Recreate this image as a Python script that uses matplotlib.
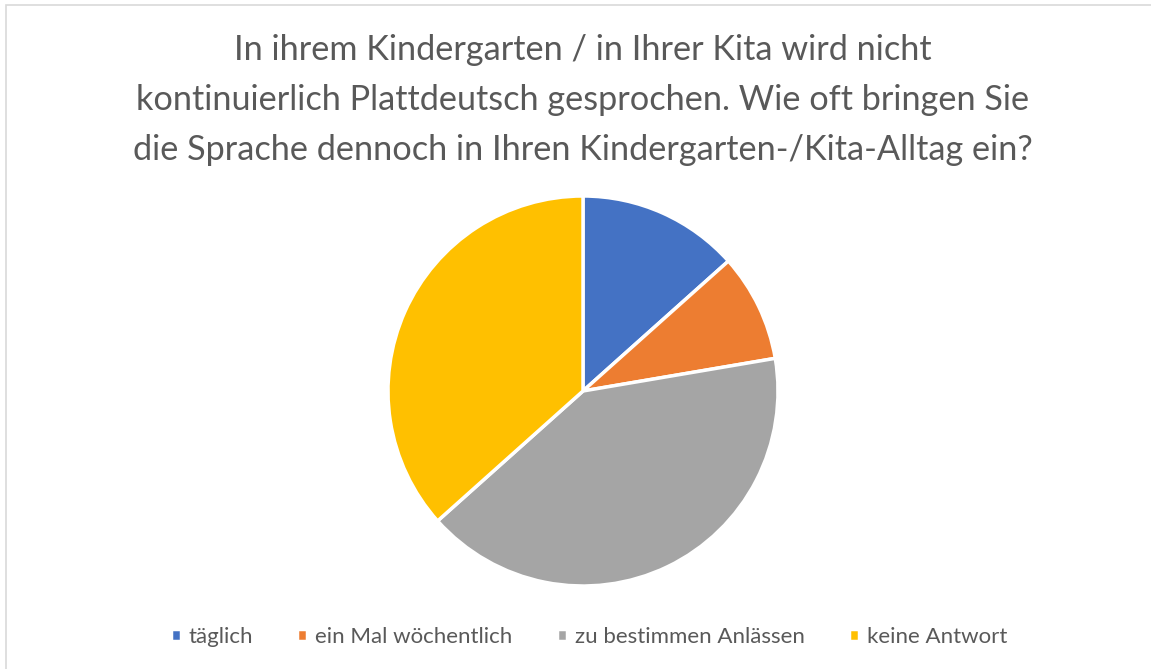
import matplotlib.pyplot as plt
from matplotlib.patches import Rectangle

categories = ["täglich", "ein Mal wöchentlich", "zu bestimmen Anlässen", "keine Antwort"]
values = [15, 10, 46, 41]
colors = ["#4472C4", "#ED7D31", "#A5A5A5", "#FFC000"]
title = ("In ihrem Kindergarten / in Ihrer Kita wird nicht\n"
         "kontinuierlich Plattdeutsch gesprochen. Wie oft bringen Sie\n"
         "die Sprache dennoch in Ihren Kindergarten-/Kita-Alltag ein?")

W, H = 1151, 669
fig = plt.figure(figsize=(W / 100, H / 100), dpi=100)
plt.rcParams['font.family'] = ['Lato', 'DejaVu Sans']

# chart border
fig.patches.append(Rectangle((6 / W, -0.01), 1.02, (H - 5) / H + 0.01, transform=fig.transFigure,
                             fill=False, edgecolor="#D9D9D9", linewidth=1.2))

fig.text(583 / W, 1 - 100 / H, title, ha="center", va="center", fontsize=24.7,
         color="#595959", linespacing=1.7)

cx, cy, r = 583, 391, 195
ax = fig.add_axes([(cx - r) / W, (H - cy - r) / H, 2 * r / W, 2 * r / H])
wedges, _ = ax.pie(values, colors=colors, startangle=90, counterclock=False,
                   wedgeprops=dict(edgecolor="white", linewidth=2.5))
ax.set_xlim(-1, 1)
ax.set_ylim(-1, 1)
ax.set_aspect("equal")

fig.legend(wedges, categories, loc="center", bbox_to_anchor=(589 / W, 1 - 637 / H),
           ncol=4, frameon=False, fontsize=16, labelcolor="#595959",
           handlelength=0.45, handleheight=0.45, handletextpad=0.35, columnspacing=2.0)

fig.savefig("out.png", dpi=100)
